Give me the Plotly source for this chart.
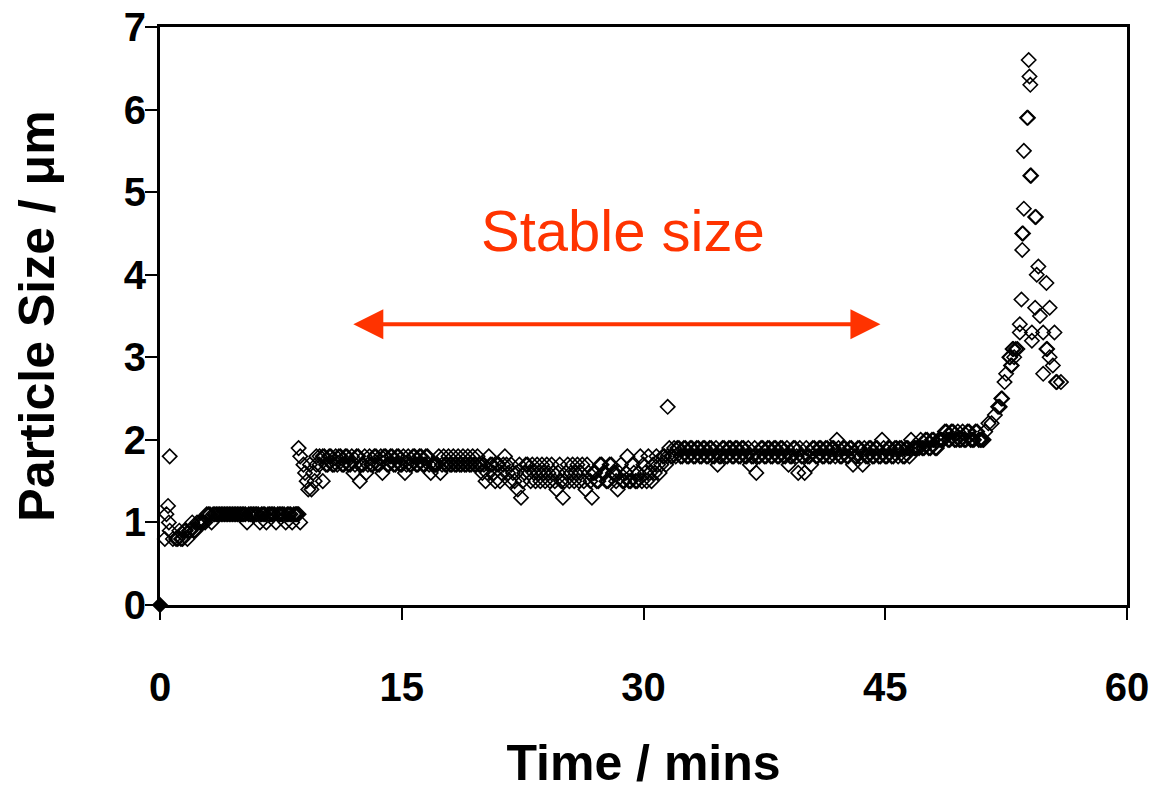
import plotly.graph_objects as go

# ---- data ----
# readings (set A)
time_min = [
    0.0, 0.3, 0.4, 0.5, 0.55, 0.6, 0.6, 0.8,
    1.0, 1.2, 1.4, 1.6, 1.8,
    2.0, 2.2, 2.4, 2.6, 2.8,
    3.0, 3.2, 3.4, 3.6, 3.8,
    4.0, 4.2, 4.4, 4.6, 4.8,
    5.0, 5.2, 5.4, 5.6, 5.8,
    6.0, 6.2, 6.4, 6.6, 6.8,
    7.0, 7.2, 7.4, 7.6, 7.8,
    8.0, 8.2, 8.4, 8.5, 8.6, 8.6, 8.7, 8.7, 8.9,
    9.0, 9.2, 9.4, 9.6, 9.7, 9.9,
    10.1, 10.2, 10.4, 10.6, 10.8,
    11.0, 11.2, 11.4, 11.6, 11.8,
    12.0, 12.2, 12.4, 12.6, 12.8,
    13.0, 13.2, 13.4, 13.6, 13.8,
    14.0, 14.2, 14.4, 14.6, 14.8,
    15.0, 15.2, 15.4, 15.6, 15.8,
    16.0, 16.2, 16.4, 16.6, 16.8,
    17.0, 17.2, 17.4, 17.6, 17.8,
    18.0, 18.2, 18.4, 18.6, 18.8,
    19.0, 19.2, 19.4, 19.6, 19.8,
    20.0, 20.2, 20.4, 20.6, 20.8,
    21.0, 21.2, 21.4, 21.6, 21.8,
    22.0, 22.2, 22.4, 22.6, 22.8,
    23.0, 23.2, 23.4, 23.6, 23.8,
    24.0, 24.2, 24.4, 24.6, 24.8,
    25.0, 25.2, 25.4, 25.6, 25.8,
    26.0, 26.2, 26.4, 26.6, 26.8,
    27.0, 27.2, 27.4, 27.6, 27.8,
    28.0, 28.2, 28.4, 28.6, 28.8,
    29.0, 29.2, 29.4, 29.6, 29.8,
    30.0, 30.2, 30.4, 30.6, 30.8,
    31.0, 31.2, 31.4, 31.5, 31.6, 31.8,
    32.0, 32.2, 32.4, 32.6, 32.8,
    33.0, 33.2, 33.4, 33.6, 33.8,
    34.0, 34.2, 34.4, 34.6, 34.8,
    35.0, 35.2, 35.4, 35.6, 35.8,
    36.0, 36.2, 36.4, 36.6, 36.8,
    37.0, 37.2, 37.4, 37.6, 37.8,
    38.0, 38.2, 38.4, 38.6, 38.8,
    39.0, 39.2, 39.4, 39.6, 39.8,
    40.0, 40.2, 40.4, 40.6, 40.8,
    41.0, 41.2, 41.4, 41.6, 41.8,
    42.0, 42.2, 42.4, 42.6, 42.8,
    43.0, 43.2, 43.4, 43.6, 43.8,
    44.0, 44.2, 44.4, 44.6, 44.8,
    45.0, 45.2, 45.4, 45.6, 45.8,
    46.0, 46.2, 46.4, 46.6, 46.8,
    47.0, 47.2, 47.4, 47.6, 47.8,
    48.0, 48.2, 48.4, 48.6, 48.8,
    49.0, 49.2, 49.4, 49.6, 49.8,
    50.0, 50.2, 50.4, 50.6, 50.8,
    51.0, 51.2, 51.4, 51.6, 51.8,
    52.0, 52.1, 52.2, 52.25, 52.4, 52.5, 52.7, 52.75, 52.8, 52.85, 52.9, 52.95,
    53.0, 53.1, 53.2, 53.35, 53.35, 53.45, 53.5, 53.5, 53.55, 53.6, 53.6, 53.8, 53.85, 53.9, 53.95,
    54.0, 54.0, 54.05, 54.1, 54.1, 54.3, 54.3, 54.35, 54.4, 54.5, 54.6, 54.8, 54.8,
    55.0, 55.0, 55.05, 55.2, 55.2, 55.4, 55.5, 55.6, 55.65, 55.9,
]

size_um = [
    0.0, 0.8, 1.1, 1.2, 1.0, 1.8, 0.9, 0.8,
    0.8, 0.9, 0.8, 0.9, 0.9,
    1.0, 0.9, 1.0, 1.0, 1.0,
    1.1, 1.0, 1.1, 1.1, 1.1,
    1.1, 1.1, 1.1, 1.1, 1.1,
    1.1, 1.1, 1.0, 1.1, 1.1,
    1.1, 1.0, 1.1, 1.0, 1.1,
    1.1, 1.0, 1.1, 1.1, 1.0,
    1.1, 1.0, 1.1, 1.1, 1.1, 1.9, 1.8, 1.0, 1.7,
    1.6, 1.4, 1.4, 1.5, 1.8, 1.7,
    1.5, 1.8, 1.7, 1.8, 1.7,
    1.7, 1.8, 1.7, 1.8, 1.7,
    1.6, 1.8, 1.5, 1.7, 1.6,
    1.8, 1.7, 1.8, 1.7, 1.6,
    1.8, 1.7, 1.8, 1.7, 1.8,
    1.7, 1.6, 1.8, 1.7, 1.8,
    1.7, 1.8, 1.7, 1.8, 1.6,
    1.7, 1.7, 1.6, 1.8, 1.7,
    1.7, 1.8, 1.7, 1.7, 1.8,
    1.7, 1.7, 1.8, 1.7, 1.7,
    1.6, 1.5, 1.8, 1.7, 1.5,
    1.7, 1.6, 1.8, 1.6, 1.7,
    1.5, 1.4, 1.3, 1.6, 1.7,
    1.5, 1.6, 1.7, 1.5, 1.6,
    1.7, 1.5, 1.6, 1.4, 1.7,
    1.3, 1.6, 1.5, 1.7, 1.6,
    1.5, 1.7, 1.4, 1.6, 1.3,
    1.6, 1.5, 1.7, 1.6, 1.5,
    1.7, 1.6, 1.4, 1.7, 1.5,
    1.8, 1.5, 1.6, 1.5, 1.8,
    1.7, 1.5, 1.6, 1.7, 1.8,
    1.6, 1.8, 1.7, 2.4, 1.9, 1.8,
    1.8, 1.9, 1.8, 1.9, 1.8,
    1.9, 1.8, 1.9, 1.8, 1.9,
    1.8, 1.9, 1.8, 1.7, 1.8,
    1.9, 1.8, 1.9, 1.8, 1.9,
    1.8, 1.9, 1.8, 1.7, 1.8,
    1.6, 1.8, 1.9, 1.8, 1.9,
    1.8, 1.9, 1.8, 1.9, 1.8,
    1.7, 1.8, 1.9, 1.6, 1.8,
    1.6, 1.8, 1.7, 1.9, 1.8,
    1.9, 1.8, 1.9, 1.8, 1.9,
    2.0, 1.8, 1.9, 1.8, 1.9,
    1.7, 1.8, 1.9, 1.7, 1.8,
    1.9, 1.8, 1.9, 1.8, 2.0,
    1.8, 1.9, 1.8, 1.9, 1.8,
    1.9, 1.8, 1.9, 2.0, 1.9,
    1.9, 2.0, 1.9, 2.0, 1.9,
    2.0, 1.9, 2.0, 2.0, 2.1,
    2.0, 2.1, 2.0, 2.0, 2.1,
    2.0, 2.1, 2.0, 2.1, 2.0,
    2.0, 2.1, 2.2, 2.2, 2.3,
    2.4, 2.4, 2.5, 2.5, 2.7, 2.8, 3.0, 3.0, 2.9, 2.9, 3.1, 3.1,
    3.0, 3.1, 3.1, 3.4, 3.3, 3.7, 4.3, 4.5, 4.5, 4.8, 5.5, 5.9, 5.9, 6.6, 6.4,
    6.3, 5.2, 5.2, 3.3, 3.2, 3.6, 4.7, 4.7, 4.0, 4.1, 3.5, 3.3, 2.8,
    3.9, 3.1, 3.1, 3.6, 3.0, 2.9, 3.3, 2.7, 2.7, 2.7,
]

# interleaved readings (set B)
time_min_b = [
    1.1, 1.3, 1.5, 1.7, 1.9,
    2.1, 2.3, 2.5, 2.7, 2.9,
    3.1, 3.3, 3.5, 3.7, 3.9,
    4.1, 4.3, 4.5, 4.7, 4.9,
    5.1, 5.3, 5.5, 5.7, 5.9,
    6.1, 6.3, 6.5, 6.7, 6.9,
    7.1, 7.3, 7.5, 7.7, 7.9,
    8.1, 8.3, 8.5,
    9.1, 9.3, 9.5, 9.7, 9.9,
    10.1, 10.3, 10.5, 10.7, 10.9,
    11.1, 11.3, 11.5, 11.7, 11.9,
    12.1, 12.3, 12.5, 12.7, 12.9,
    13.1, 13.3, 13.5, 13.7, 13.9,
    14.1, 14.3, 14.5, 14.7, 14.9,
    15.1, 15.3, 15.5, 15.7, 15.9,
    16.1, 16.3, 16.5, 16.7, 16.9,
    17.1, 17.3, 17.5, 17.7, 17.9,
    18.1, 18.3, 18.5, 18.7, 18.9,
    19.1, 19.3, 19.5, 19.7, 19.9,
    20.1, 20.3, 20.5, 20.7, 20.9,
    21.1, 21.3, 21.5, 21.7, 21.9,
    22.1, 22.3, 22.5, 22.7, 22.9,
    23.1, 23.3, 23.5, 23.7, 23.9,
    24.1, 24.3, 24.5, 24.7, 24.9,
    25.1, 25.3, 25.5, 25.7, 25.9,
    26.1, 26.3, 26.5, 26.7, 26.9,
    27.1, 27.3, 27.5, 27.7, 27.9,
    28.1, 28.3, 28.5, 28.7, 28.9,
    29.1, 29.3, 29.5, 29.7, 29.9,
    30.1, 30.3, 30.5, 30.7, 30.9,
    31.1, 31.3, 31.5, 31.7, 31.9,
    32.1, 32.3, 32.5, 32.7, 32.9,
    33.1, 33.3, 33.5, 33.7, 33.9,
    34.1, 34.3, 34.5, 34.7, 34.9,
    35.1, 35.3, 35.5, 35.7, 35.9,
    36.1, 36.3, 36.5, 36.7, 36.9,
    37.1, 37.3, 37.5, 37.7, 37.9,
    38.1, 38.3, 38.5, 38.7, 38.9,
    39.1, 39.3, 39.5, 39.7, 39.9,
    40.1, 40.3, 40.5, 40.7, 40.9,
    41.1, 41.3, 41.5, 41.7, 41.9,
    42.1, 42.3, 42.5, 42.7, 42.9,
    43.1, 43.3, 43.5, 43.7, 43.9,
    44.1, 44.3, 44.5, 44.7, 44.9,
    45.1, 45.3, 45.5, 45.7, 45.9,
    46.1, 46.3, 46.5, 46.7, 46.9,
    47.1, 47.3, 47.5, 47.7, 47.9,
    48.1, 48.3, 48.5, 48.7, 48.9,
    49.1, 49.3, 49.5, 49.7, 49.9,
    50.1, 50.3, 50.5, 50.7, 50.9,
    51.1,
]

size_um_b = [
    0.8, 0.8, 0.9, 0.8, 0.9,
    0.9, 1.0, 1.0, 1.0, 1.1,
    1.1, 1.1, 1.1, 1.1, 1.1,
    1.1, 1.1, 1.1, 1.1, 1.1,
    1.1, 1.1, 1.1, 1.1, 1.1,
    1.1, 1.1, 1.1, 1.1, 1.1,
    1.1, 1.1, 1.1, 1.1, 1.1,
    1.1, 1.1, 1.1,
    1.5, 1.7, 1.6, 1.7, 1.8,
    1.8, 1.7, 1.8, 1.7, 1.8,
    1.8, 1.7, 1.8, 1.7, 1.8,
    1.7, 1.8, 1.7, 1.8, 1.7,
    1.7, 1.8, 1.7, 1.8, 1.8,
    1.7, 1.8, 1.7, 1.8, 1.7,
    1.8, 1.7, 1.7, 1.8, 1.7,
    1.8, 1.7, 1.8, 1.7, 1.7,
    1.7, 1.8, 1.7, 1.7, 1.8,
    1.7, 1.7, 1.8, 1.7, 1.7,
    1.8, 1.7, 1.7, 1.8, 1.7,
    1.7, 1.6, 1.7, 1.6, 1.7,
    1.5, 1.7, 1.7, 1.5, 1.6,
    1.6, 1.7, 1.5, 1.7, 1.6,
    1.7, 1.5, 1.6, 1.7, 1.5,
    1.6, 1.7, 1.5, 1.6, 1.5,
    1.5, 1.7, 1.6, 1.5, 1.7,
    1.6, 1.5, 1.7, 1.5, 1.6,
    1.5, 1.7, 1.6, 1.5, 1.7,
    1.6, 1.5, 1.6, 1.5, 1.6,
    1.5, 1.7, 1.5, 1.6, 1.5,
    1.6, 1.8, 1.5, 1.6, 1.7,
    1.7, 1.8, 1.8, 1.8, 1.9,
    1.9, 1.8, 1.9, 1.8, 1.9,
    1.8, 1.9, 1.8, 1.9, 1.8,
    1.9, 1.8, 1.9, 1.8, 1.9,
    1.8, 1.9, 1.8, 1.9, 1.8,
    1.9, 1.8, 1.9, 1.8, 1.9,
    1.8, 1.9, 1.8, 1.9, 1.8,
    1.9, 1.8, 1.9, 1.8, 1.9,
    1.8, 1.9, 1.8, 1.9, 1.8,
    1.9, 1.8, 1.9, 1.8, 1.9,
    1.8, 1.9, 1.8, 1.9, 1.8,
    1.9, 1.8, 1.9, 1.8, 1.9,
    1.8, 1.9, 1.8, 1.9, 1.8,
    1.9, 1.8, 1.9, 1.8, 1.9,
    1.8, 1.9, 1.8, 1.9, 1.9,
    1.8, 1.9, 1.8, 1.9, 1.9,
    1.9, 1.9, 2.0, 1.9, 2.0,
    1.9, 2.0, 2.0, 2.1, 2.0,
    2.1, 2.0, 2.1, 2.0, 2.0,
    2.1, 2.0, 2.0, 2.1, 2.0,
    2.0,
]

x_ticks = [0, 15, 30, 45, 60]
y_ticks = [0, 1, 2, 3, 4, 5, 6, 7]

annotation_text = "Stable size"
stable_start, stable_end = 11.9, 44.7

FONT = "Arial, Liberation Sans, sans-serif"
RED = "#FF3300"

all_time = time_min + time_min_b
all_size = size_um + size_um_b
symbols = ["diamond" if v == 0 else "diamond-open" for v in all_size]

fig = go.Figure()
fig.add_trace(go.Scatter(
    x=all_time, y=all_size, mode="markers",
    marker=dict(symbol=symbols, size=11, color="black",
                line=dict(color="black", width=1.6)),
    cliponaxis=False, showlegend=False,
))

fig.update_layout(
    width=1155, height=791,
    paper_bgcolor="white", plot_bgcolor="white",
    margin=dict(l=160, r=28, t=27, b=186, autoexpand=False),
    font=dict(family=FONT, color="black"),
    xaxis=dict(
        range=[0, 60], tickvals=x_ticks, ticktext=[f"<b>{v}</b>" for v in x_ticks],
        ticks="outside", ticklen=12, tickwidth=1.5, tickcolor="black",
        showline=True, linecolor="black", linewidth=3, mirror=True,
        showgrid=False, zeroline=False, automargin=False,
        tickfont=dict(size=40, family=FONT), ticklabelstandoff=33,
        title=dict(text="<b>Time / mins</b>", font=dict(size=50, family=FONT), standoff=49),
    ),
    yaxis=dict(
        range=[0, 7], tickvals=y_ticks, ticktext=[f"<b>{v}</b>" for v in y_ticks],
        ticks="outside", ticklen=12, tickwidth=1.5, tickcolor="black",
        showline=True, linecolor="black", linewidth=3, mirror=True,
        showgrid=False, zeroline=False, automargin=False,
        tickfont=dict(size=40, family=FONT), ticklabelstandoff=-9,
        title=dict(text="<b>Particle Size / μm</b>", font=dict(size=50, family=FONT), standoff=54),
    ),
)

fig.add_annotation(
    x=28.7, y=4.54, xref="x", yref="y", text=annotation_text, showarrow=False,
    font=dict(size=58, color=RED, family=FONT),
)
fig.add_annotation(
    x=stable_end, y=3.40, ax=stable_start, ay=3.40, xref="x", yref="y",
    axref="x", ayref="y", text="", showarrow=True, arrowside="end+start",
    arrowhead=2, arrowsize=1.5, arrowwidth=4, arrowcolor=RED,
)

fig.write_html("out.html", config={"displayModeBar": False},
               post_script="document.body.style.margin='0';")
